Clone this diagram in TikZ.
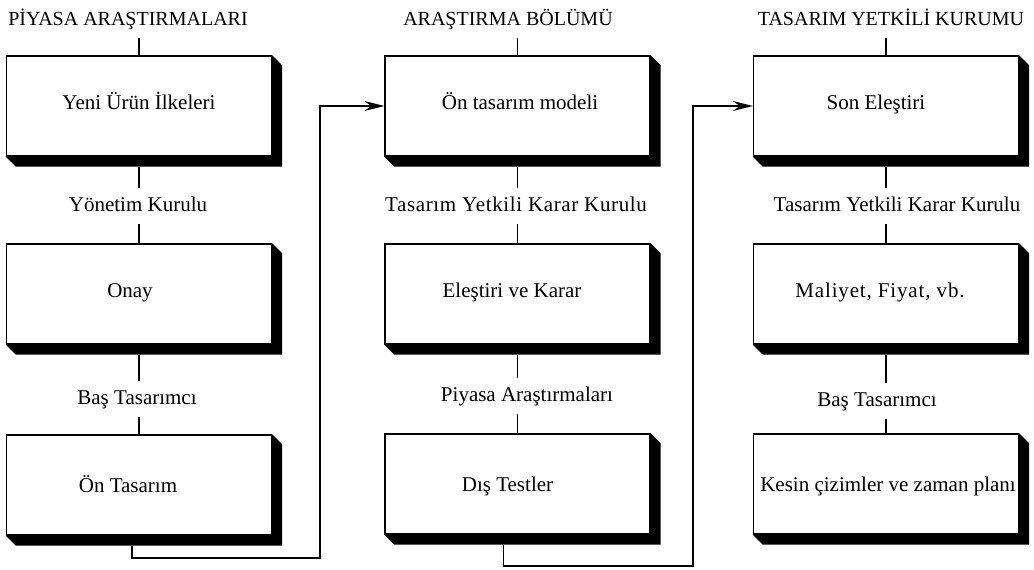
\documentclass[tikz,border=0pt]{standalone}
\usepackage{fontspec}
\setmainfont{Liberation Serif}
\newfontfamily\widea[LetterSpace=3]{Liberation Serif}
\newfontfamily\wideb[LetterSpace=4]{Liberation Serif}
\usetikzlibrary{arrows.meta}
\newcommand\txsh[2]{\hspace*{#1}#2}
\begin{document}
\begin{tikzpicture}[x=1pt,y=-1pt,
  box/.style={draw, line width=1.3pt, fill=white, minimum width=265pt, minimum height=100pt, inner sep=0pt,
    text height=14pt, text depth=8pt, font=\fontsize{21}{24}\selectfont},
  lowbox/.style={box, text depth=0pt},
  lbl/.style={anchor=base, font=\fontsize{21}{24}\selectfont, text height=14pt, text depth=4pt, inner xsep=2pt, inner ysep=9pt},
  ttl/.style={lbl, font=\fontsize{20}{24}\selectfont},
  conn/.style={line width=1.3pt},
  arr/.style={line width=1.3pt, -{Stealth[length=20pt,width=10pt,inset=7pt]}}]
\useasboundingbox (0,0) rectangle (1034,570);

% titles
\node[ttl] (t1) at (128,25) {PİYASA ARAŞTIRMALARI};
\node[ttl] (t2) at (508,25) {ARAŞTIRMA BÖLÜMÜ};
\node[ttl] (t3) at (891,25) {TASARIM YETKİLİ KURUMU};

% boxes
\node[box] (b11) at (139,106) {Yeni Ürün İlkeleri};
\node[box] (b12) at (139,294) {\txsh{-18pt}{Onay}};
\node[lowbox] (b13) at (139,485) {\txsh{-22pt}{Ön Tasarım}};
\node[box] (b21) at (517.5,106) {\txsh{5pt}{Ön tasarım modeli}};
\node[box] (b22) at (517.5,294) {\txsh{-11pt}{Eleştiri ve Karar}};
\node[lowbox] (b23) at (517.5,484) {\txsh{-20pt}{Dış Testler}};
\node[box] (b31) at (886,106) {\txsh{-20pt}{Son Eleştiri}};
\node[box] (b32) at (886,294) {\txsh{-12pt}{\wideb Maliyet, Fiyat, vb.}};
\node[lowbox] (b33) at (886,484) {\txsh{4pt}{Kesin çizimler ve zaman planı}};

% shadows
\foreach \b in {b11,b12,b13,b21,b22,b23,b31,b32,b33}
  \fill[black] (\b.north east) -- ++(10,10) -- ([shift={(10,10)}]\b.south east)
    -- ([shift={(10,10)}]\b.south west) -- (\b.south west) -- (\b.south east) -- cycle;

% labels
\node[lbl] (l11) at (138,211) {Yönetim Kurulu};
\node[lbl] (l12) at (137,404) {Baş Tasarımcı};
\node[lbl] (l21) at (516,211) {\widea Tasarım Yetkili Karar Kurulu};
\node[lbl] (l22) at (527,401) {Piyasa Araştırmaları};
\node[lbl] (l31) at (897,211) {Tasarım Yetkili Karar Kurulu};
\node[lbl] (l32) at (877,406) {Baş Tasarımcı};

% vertical connectors
\draw[conn] (b11.north |- t1.south) -- (b11.north);
\draw[conn] ([shift={(0,10)}]b11.south) -- (b11.south |- l11.north);
\draw[conn] (b12.north |- l11.south) -- (b12.north);
\draw[conn] ([shift={(0,10)}]b12.south) -- (b12.south |- l12.north);
\draw[conn] (b13.north |- l12.south) -- (b13.north);

\draw[conn] (b21.north |- t2.south) -- (b21.north);
\draw[conn] ([shift={(0,10)}]b21.south) -- (b21.south |- l21.north);
\draw[conn] (b22.north |- l21.south) -- (b22.north);
\draw[conn] ([shift={(0,10)}]b22.south) -- (b22.south |- l22.north);
\draw[conn] (b23.north |- l22.south) -- (b23.north);

\draw[conn] (b31.north |- t3.south) -- (b31.north);
\draw[conn] ([shift={(0,10)}]b31.south) -- (b31.south |- l31.north);
\draw[conn] (b32.north |- l31.south) -- (b32.north);
\draw[conn] ([shift={(0,10)}]b32.south) -- (b32.south |- l32.north);
\draw[conn] (b33.north |- l32.south) -- (b33.north);

% arrows between columns
\coordinate (j1) at (320,558);
\coordinate (j2) at (693,566);
\draw[arr] ([shift={(-7,10)}]b13.south) |- (j1) |- (b21.west);
\draw[arr] ([shift={(-14,10)}]b23.south) |- (j2) |- (b31.west);
\end{tikzpicture}
\end{document}
